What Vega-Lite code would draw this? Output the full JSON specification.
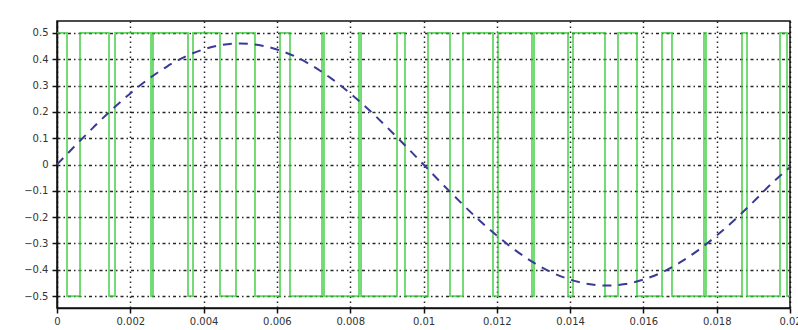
{
  "$schema": "https://vega.github.io/schema/vega-lite/v6.json",
  "width": 733,
  "height": 287,
  "autosize": {"type": "none"},
  "padding": {"left": 57, "top": 21, "right": 8, "bottom": 22},
  "background": "white",
  "config": {
    "view": {"stroke": "#111", "strokeWidth": 1.5},
    "axis": {
      "domainColor": "#111", "domainWidth": 1.5,
      "tickColor": "#111", "tickWidth": 1.5, "tickSize": 5,
      "labelFont": "DejaVu Sans", "labelFontSize": 10, "labelColor": "#333",
      "labelOverlap": false,
      "title": null
    }
  },
  "datasets": {
    "sine": [
      {"t": 0.0, "v": 0.0}, {"t": 0.0005, "v": 0.072}, {"t": 0.001, "v": 0.142}, {"t": 0.0015, "v": 0.209},
      {"t": 0.002, "v": 0.27}, {"t": 0.0025, "v": 0.325}, {"t": 0.003, "v": 0.372}, {"t": 0.0035, "v": 0.41},
      {"t": 0.004, "v": 0.437}, {"t": 0.0045, "v": 0.454}, {"t": 0.005, "v": 0.46}, {"t": 0.0055, "v": 0.454},
      {"t": 0.006, "v": 0.437}, {"t": 0.0065, "v": 0.41}, {"t": 0.007, "v": 0.372}, {"t": 0.0075, "v": 0.325},
      {"t": 0.008, "v": 0.27}, {"t": 0.0085, "v": 0.209}, {"t": 0.009, "v": 0.142}, {"t": 0.0095, "v": 0.072},
      {"t": 0.01, "v": 0.0}, {"t": 0.0105, "v": -0.072}, {"t": 0.011, "v": -0.142}, {"t": 0.0115, "v": -0.209},
      {"t": 0.012, "v": -0.27}, {"t": 0.0125, "v": -0.325}, {"t": 0.013, "v": -0.372}, {"t": 0.0135, "v": -0.41},
      {"t": 0.014, "v": -0.437}, {"t": 0.0145, "v": -0.454}, {"t": 0.015, "v": -0.46}, {"t": 0.0155, "v": -0.454},
      {"t": 0.016, "v": -0.437}, {"t": 0.0165, "v": -0.41}, {"t": 0.017, "v": -0.372}, {"t": 0.0175, "v": -0.325},
      {"t": 0.018, "v": -0.27}, {"t": 0.0185, "v": -0.209}, {"t": 0.019, "v": -0.142}, {"t": 0.0195, "v": -0.072},
      {"t": 0.02, "v": -0.01}
    ],
    "pwm": [
      {"t": 0.0, "v": 0.5}, {"t": 0.000273, "v": -0.5}, {"t": 0.000628, "v": 0.5}, {"t": 0.001419, "v": -0.5},
      {"t": 0.001583, "v": 0.5}, {"t": 0.002565, "v": -0.5}, {"t": 0.002619, "v": 0.5}, {"t": 0.003574, "v": -0.5},
      {"t": 0.003711, "v": 0.5}, {"t": 0.004447, "v": -0.5}, {"t": 0.004884, "v": 0.5}, {"t": 0.005402, "v": -0.5},
      {"t": 0.006085, "v": 0.5}, {"t": 0.006357, "v": -0.5}, {"t": 0.007231, "v": 0.5}, {"t": 0.007285, "v": -0.5},
      {"t": 0.00824, "v": 0.5}, {"t": 0.008295, "v": -0.5}, {"t": 0.009277, "v": 0.5}, {"t": 0.009495, "v": -0.5},
      {"t": 0.010123, "v": 0.5}, {"t": 0.010723, "v": -0.5}, {"t": 0.011078, "v": 0.5}, {"t": 0.011896, "v": -0.5},
      {"t": 0.012033, "v": 0.5}, {"t": 0.01296, "v": -0.5}, {"t": 0.013015, "v": 0.5}, {"t": 0.013943, "v": -0.5},
      {"t": 0.014079, "v": 0.5}, {"t": 0.014952, "v": -0.5}, {"t": 0.015307, "v": 0.5}, {"t": 0.015825, "v": -0.5},
      {"t": 0.016508, "v": 0.5}, {"t": 0.01678, "v": -0.5}, {"t": 0.017653, "v": 0.5}, {"t": 0.017708, "v": -0.5},
      {"t": 0.01869, "v": 0.5}, {"t": 0.018827, "v": -0.5}, {"t": 0.019727, "v": 0.5}, {"t": 0.019918, "v": -0.5},
      {"t": 0.02, "v": -0.5}
    ]
  },
  "layer": [
    {
      "data": {"name": "pwm"},
      "mark": {"type": "line", "interpolate": "step-after", "color": "#33c933", "strokeWidth": 1.8, "opacity": 0.75, "clip": true},
      "encoding": {
        "x": {"field": "t", "type": "quantitative",
              "scale": {"domain": [0, 0.02], "nice": false, "zero": false},
              "axis": {"values": [0, 0.002, 0.004, 0.006, 0.008, 0.01, 0.012, 0.014, 0.016, 0.018, 0.02],
                       "tickCount": 30,
                       "labelExpr": "datum.value == 0 ? '0' : format(datum.value, '.3~f')",
                       "labelOverlap": false,
                       "grid": true, "gridColor": "#000", "gridDash": [1.5, 3.5], "gridWidth": 1.5, "gridOpacity": 0.85,
                       "labelPadding": 3, "labelFlush": false}},
        "y": {"field": "v", "type": "quantitative",
              "scale": {"domain": [-0.545, 0.545], "nice": false, "zero": false},
              "axis": {"values": [-0.5, -0.4, -0.3, -0.2, -0.1, 0, 0.1, 0.2, 0.3, 0.4, 0.5],
                       "tickCount": 30,
                       "labelExpr": "replace(format(datum.value, '.1~f'), '-', '\u2212')",
                       "labelOverlap": false,
                       "grid": true, "gridColor": "#000", "gridDash": [3, 3, 1.5, 3], "gridWidth": 1.3, "gridOpacity": 0.85,
                       "labelPadding": 4}}
      }
    },
    {
      "data": {"name": "sine"},
      "mark": {"type": "line", "interpolate": "monotone", "color": "#3a3a96", "strokeWidth": 2, "strokeDash": [9, 7]},
      "encoding": {
        "x": {"field": "t", "type": "quantitative"},
        "y": {"field": "v", "type": "quantitative"}
      }
    }
  ]
}
